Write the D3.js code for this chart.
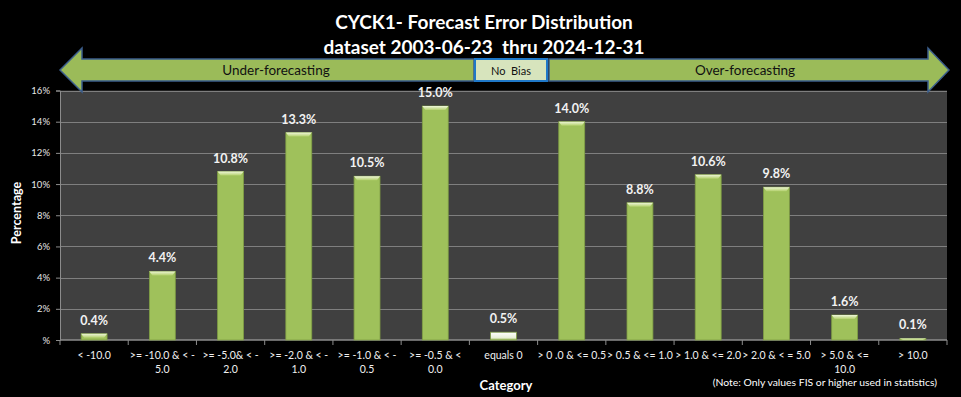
<!DOCTYPE html>
<html>
<head>
<meta charset="utf-8">
<script src="https://cdn.jsdelivr.net/npm/d3@7"></script>
<style>
  html, body { margin: 0; padding: 0; background: #000; }
  svg { display: block; font-family: Lato, "Open Sans", sans-serif; }
</style>
</head>
<body>
<div id="chart"></div>
<script>
// data
const categories = [
  ["< -10.0"],
  [">= -10.0 & < -", "5.0"],
  [">= -5.0& < -", "2.0"],
  [">= -2.0 & < -", "1.0"],
  [">= -1.0 & < -", "0.5"],
  [">= -0.5 & <", "0.0"],
  ["equals 0"],
  ["> 0 .0 & <= 0.5"],
  ["> 0.5 & <= 1.0"],
  ["> 1.0 & <= 2.0"],
  ["> 2.0 & < = 5.0"],
  ["> 5.0 & <=", "10.0"],
  ["> 10.0"]
];
const values = [0.4, 4.4, 10.8, 13.3, 10.5, 15.0, 0.5, 14.0, 8.8, 10.6, 9.8, 1.6, 0.1];
const yTicks = [0, 2, 4, 6, 8, 10, 12, 14, 16];
const titleLines = ["CYCK1- Forecast Error Distribution", "dataset 2003-06-23  thru 2024-12-31"];
const bandLabels = ["Under-forecasting", "No  Bias", "Over-forecasting"];

const width = 961, height = 397;
const margin = { top: 90.5, right: 14, bottom: 57, left: 60 };

const svg = d3.select("#chart").append("svg")
  .attr("width", width)
  .attr("height", height);

svg.append("rect").attr("width", width).attr("height", height).attr("fill", "#000");

const x = d3.scaleBand()
  .domain(d3.range(categories.length))
  .range([margin.left, width - margin.right])
  .paddingInner(0.62)
  .paddingOuter(0.31);

const y = d3.scaleLinear()
  .domain([0, 16])
  .range([height - margin.bottom, margin.top]);

const barData = values.map((v, i) => ({ v, i, cat: categories[i] }));

// plot area
svg.append("rect")
  .attr("x", margin.left).attr("y", margin.top)
  .attr("width", width - margin.right - margin.left)
  .attr("height", y(0) - margin.top)
  .attr("fill", "#404040");

// gridlines
svg.append("g")
  .selectAll("line")
  .data(yTicks.filter(d => d > 0))
  .join("line")
  .attr("x1", margin.left).attr("x2", width - margin.right)
  .attr("y1", d => Math.round(y(d)) + 0.5).attr("y2", d => Math.round(y(d)) + 0.5)
  .attr("stroke", "#7f7f7f").attr("stroke-width", 1.2);

// y axis
const yAxis = svg.append("g")
  .attr("transform", `translate(${margin.left},0)`)
  .call(d3.axisLeft(y).tickValues(yTicks).tickSize(4).tickPadding(6)
    .tickFormat(d => d === 0 ? "%" : d + "%"));
yAxis.select(".domain").attr("stroke", "#8c8c8c");
yAxis.selectAll(".tick line").attr("stroke", "#8c8c8c");
yAxis.selectAll("text").attr("fill", "#e6e6e6").attr("font-size", 9.5).attr("font-family", "Lato");

// x axis
const xEdge = d3.scaleLinear().domain([0, categories.length]).range([margin.left, width - margin.right]);
const xAxis = svg.append("g").attr("transform", `translate(0,${y(0)})`);
xAxis.append("line")
  .attr("x1", margin.left).attr("x2", width - margin.right)
  .attr("stroke", "#8c8c8c").attr("stroke-width", 1.5);
xAxis.selectAll(".tk")
  .data(d3.range(categories.length + 1))
  .join("line")
  .attr("class", "tk")
  .attr("x1", d => xEdge(d)).attr("x2", d => xEdge(d))
  .attr("y1", 0).attr("y2", 5)
  .attr("stroke", "#8c8c8c");
xAxis.selectAll(".cat")
  .data(barData)
  .join("text")
  .attr("class", "cat")
  .attr("text-anchor", "middle")
  .attr("fill", "#f0f0f0")
  .attr("font-size", 10.5)
  .attr("font-family", "Lato")
  .selectAll("tspan")
  .data(d => d.cat.map(t => ({ t, cx: x(d.i) + x.bandwidth() / 2 })))
  .join("tspan")
  .attr("x", d => d.cx)
  .attr("y", (d, i) => 19 + i * 14)
  .text(d => d.t);

// bar gradient (bevel highlight)
const defs = svg.append("defs");
const capGrad = defs.append("linearGradient").attr("id", "cap").attr("x1", 0).attr("y1", 0).attr("x2", 0).attr("y2", 1);
capGrad.append("stop").attr("offset", "0%").attr("stop-color", "#eef6d8");
capGrad.append("stop").attr("offset", "100%").attr("stop-color", "#b3d06c");
const zeroGrad = defs.append("linearGradient").attr("id", "zero").attr("x1", 0).attr("y1", 0).attr("x2", 0).attr("y2", 1);
zeroGrad.append("stop").attr("offset", "0%").attr("stop-color", "#ffffff");
zeroGrad.append("stop").attr("offset", "70%").attr("stop-color", "#e8efd8");
zeroGrad.append("stop").attr("offset", "100%").attr("stop-color", "#9bbb59");

const isZero = d => d.cat[0] === "equals 0";

const bars = svg.append("g");
bars.selectAll("rect.bar")
  .data(barData)
  .join("rect")
  .attr("class", "bar")
  .attr("x", d => x(d.i))
  .attr("y", d => y(d.v))
  .attr("width", x.bandwidth())
  .attr("height", d => y(0) - y(d.v))
  .attr("fill", d => isZero(d) ? "url(#zero)" : "#9fc15b")
  .attr("stroke", "#7f9d44").attr("stroke-width", 0.8);

bars.selectAll("path.cap")
  .data(barData.filter(d => !isZero(d)))
  .join("path")
  .attr("class", "cap")
  .attr("d", d => {
    const x0 = x(d.i), w = x.bandwidth(), t = y(d.v), h = Math.min(4, y(0) - y(d.v));
    return `M${x0},${t}H${x0 + w}L${x0 + w - 3},${t + h}H${x0 + 3}Z`;
  })
  .attr("fill", "url(#cap)");

// value labels
svg.append("g")
  .selectAll("text")
  .data(barData)
  .join("text")
  .attr("x", d => x(d.i) + x.bandwidth() / 2)
  .attr("y", d => y(d.v) - 9)
  .attr("text-anchor", "middle")
  .attr("fill", "#f2f2f2")
  .attr("font-size", 12.5)
  .attr("font-weight", "bold")
  .attr("font-family", "Lato")
  .text(d => d.v.toFixed(1) + "%");

// title
svg.append("g")
  .selectAll("text")
  .data(titleLines)
  .join("text")
  .attr("x", 484)
  .attr("y", (d, i) => 29 + i * 25)
  .attr("text-anchor", "middle")
  .attr("fill", "#fff")
  .attr("font-size", 19)
  .attr("font-weight", "bold")
  .attr("font-family", "Lato")
  .style("white-space", "pre")
  .text(d => d);

// bias arrows
const band = svg.append("g");
const bTop = 59, bBot = 81, hTop = 48, hBot = 92, mid = 70;
band.append("path")
  .attr("d", `M60,${mid}L82,${hTop}V${bTop}H474V${bBot}H82V${hBot}Z`)
  .attr("fill", "#9bbb59").attr("stroke", "#3b5e8c").attr("stroke-width", 1.5);
band.append("path")
  .attr("d", `M949,${mid}L928,${hTop}V${bTop}H549V${bBot}H928V${hBot}Z`)
  .attr("fill", "#9bbb59").attr("stroke", "#3b5e8c").attr("stroke-width", 1.5);
band.append("rect")
  .attr("x", 475).attr("y", bTop).attr("width", 72).attr("height", bBot - bTop)
  .attr("fill", "#d7e4bd").attr("stroke", "#1f78c8").attr("stroke-width", 2);
band.selectAll("text")
  .data(bandLabels)
  .join("text")
  .attr("x", (d, i) => [276, 511, 745][i])
  .attr("y", 75)
  .attr("text-anchor", "middle")
  .attr("fill", "#111")
  .attr("font-size", (d, i) => i === 1 ? 11 : 13.5)
  .attr("font-family", "Lato")
  .style("white-space", "pre")
  .text(d => d);

// axis titles
svg.append("text")
  .attr("transform", `translate(21,213) rotate(-90)`)
  .attr("text-anchor", "middle")
  .attr("fill", "#fff")
  .attr("font-size", 12.5)
  .attr("font-weight", "bold")
  .attr("font-family", "Lato")
  .text("Percentage");
svg.append("text")
  .attr("x", 506).attr("y", 390)
  .attr("text-anchor", "middle")
  .attr("fill", "#fff")
  .attr("font-size", 13)
  .attr("font-weight", "bold")
  .attr("font-family", "Lato")
  .text("Category");
svg.append("text")
  .attr("x", 937).attr("y", 386)
  .attr("text-anchor", "end")
  .attr("fill", "#fff")
  .attr("font-size", 10.4)
  .attr("font-family", "Lato")
  .text("(Note: Only values FIS or higher used in statistics)");
</script>
</body>
</html>
